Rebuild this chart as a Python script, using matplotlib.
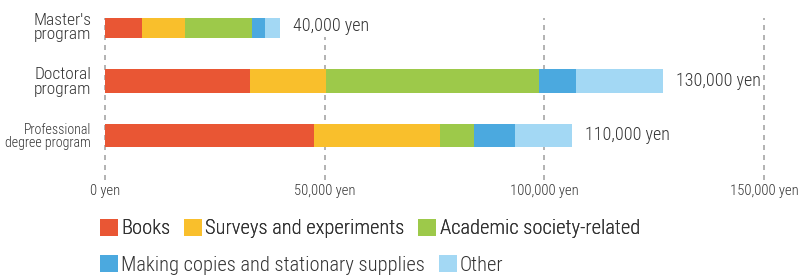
import matplotlib
matplotlib.use("Agg")
import matplotlib.pyplot as plt
from matplotlib.patches import Patch

plt.rcParams['font.family'] = ['Roboto Condensed', 'DejaVu Sans']
plt.rcParams['font.weight'] = 'light'

programs = ["Master's\nprogram", "Doctoral\nprogram", "Professional\ndegree program"]
label_sizes = [12.5, 12.5, 10]
categories = ['Books', 'Surveys and experiments', 'Academic society-related',
              'Making copies and stationary supplies', 'Other']
colors = ['#E95634', '#F9BF2C', '#9DC94A', '#4BA9DF', '#A3D8F4']
books = [8500, 33100, 47500]
surveys = [9600, 17300, 28700]
academic = [15400, 48500, 7700]
copies = [3000, 8300, 9400]
other = [3400, 19800, 13000]
totals = ['40,000 yen', '130,000 yen', '110,000 yen']
xticks = [0, 50000, 100000, 150000]
xticklabels = ['0 yen', '50,000 yen', '100,000 yen', '150,000 yen']

series = [books, surveys, academic, copies, other]
txt_color = '#333333'

fig = plt.figure(figsize=(7.99, 2.77), dpi=100)
ax = fig.add_axes([0.1314, 0.350, 0.8248, 0.585])

y = list(range(len(programs)))
left = [0] * len(programs)
for vals, c, name in zip(series, colors, categories):
    ax.barh(y, vals, left=left, height=0.43, color=c, label=name, zorder=2)
    left = [l + v for l, v in zip(left, vals)]

for i, (end, txt) in enumerate(zip(left, totals)):
    ax.text(end + 3000, i, txt, va='center', ha='left', fontsize=13, color=txt_color,
            bbox=dict(facecolor='white', edgecolor='none', pad=1), zorder=3)

for t in xticks:
    ax.axvline(t, color='#a6a6a6', linestyle=(0, (3, 3)), linewidth=1.2, zorder=1, clip_on=False)

ax.set_xlim(0, 150000)
ax.set_ylim(2.82, -0.156)
ax.set_xticks(xticks)
ax.set_xticklabels(xticklabels, fontsize=10.5, color=txt_color)
ax.set_yticks(y)
ax.set_yticklabels(programs, color=txt_color)
for lab, s in zip(ax.get_yticklabels(), label_sizes):
    lab.set_fontsize(s)
    lab.set_linespacing(0.95)
ax.tick_params(length=0, pad=3)
ax.tick_params(axis='y', pad=10)
for sp in ax.spines.values():
    sp.set_visible(False)

handles = [Patch(facecolor=c, edgecolor='none') for c in colors]
leg_kw = dict(loc='center left', frameon=False, fontsize=14.8, handlelength=0.88, handleheight=0.88,
              handletextpad=0.16, columnspacing=0.66, borderaxespad=0, borderpad=0)
leg1 = fig.legend(handles[:3], categories[:3], bbox_to_anchor=(0.125, 0.175), ncol=3, **leg_kw)
leg2 = fig.legend(handles[3:], categories[3:], bbox_to_anchor=(0.125, 0.043), ncol=2, **leg_kw)
for leg in (leg1, leg2):
    for t in leg.get_texts():
        t.set_color(txt_color)
fig.add_artist(leg1)

fig.savefig('out.png', dpi=100)
